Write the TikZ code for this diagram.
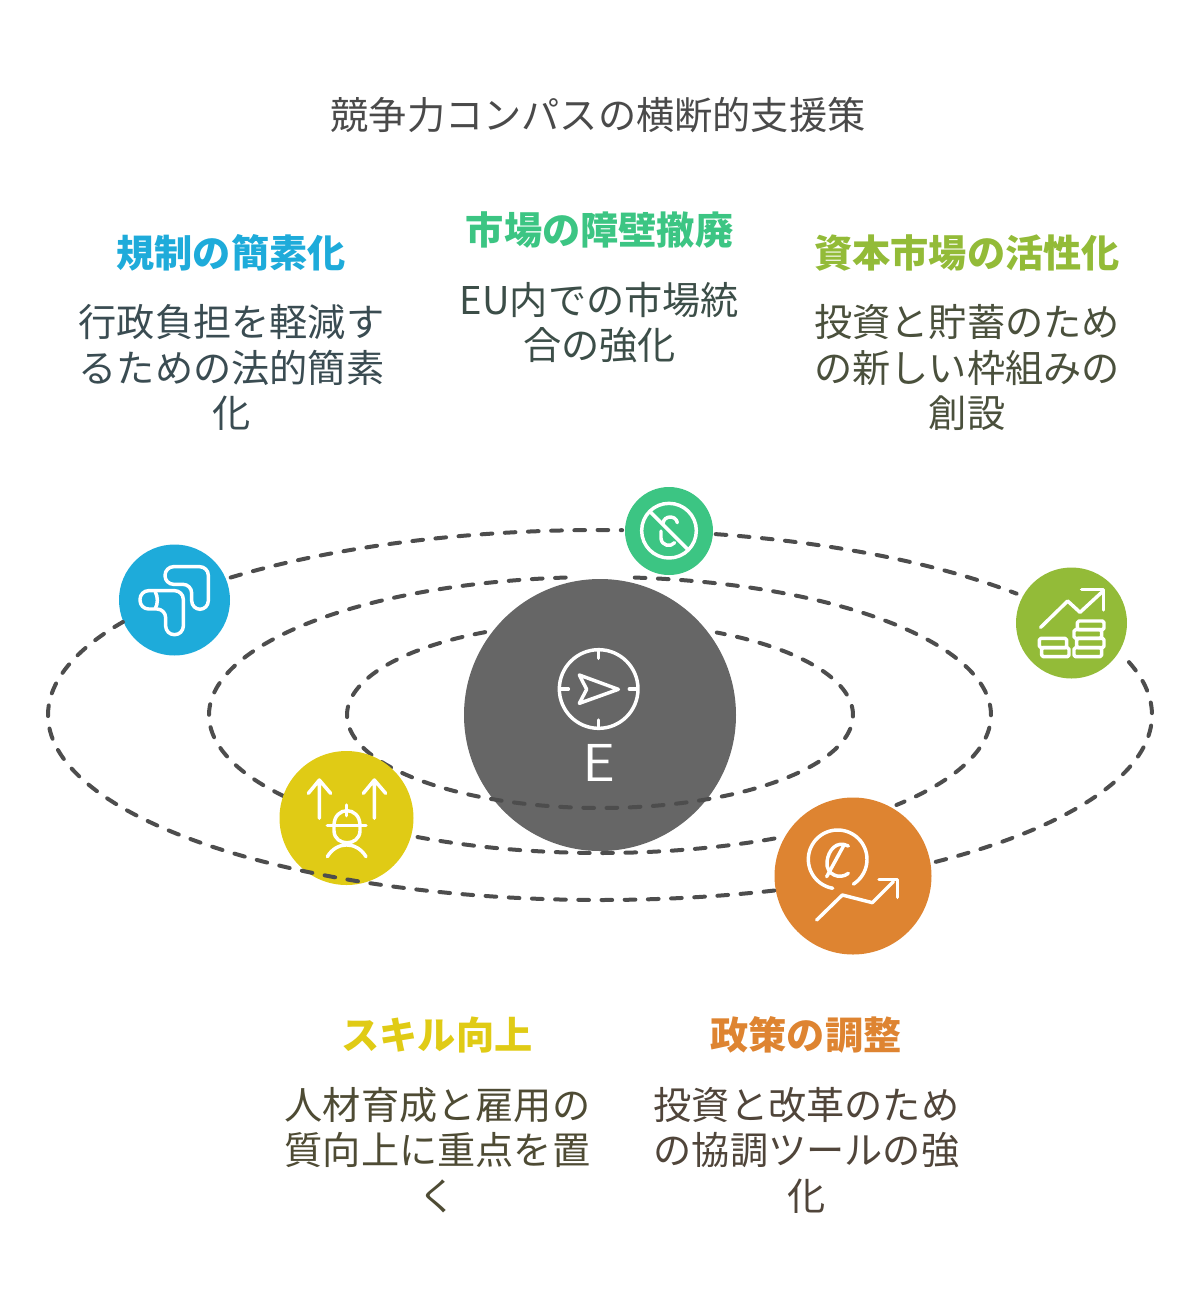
\documentclass[tikz,border=0pt]{standalone}
\usepackage{fontspec}
\setmainfont{Noto Sans CJK JP}
\newfontfamily\efont[FakeStretch=1.12]{Noto Sans CJK JP DemiLight}
\definecolor{cblue}{HTML}{1EABDA}
\definecolor{cgreen}{HTML}{3CC583}
\definecolor{clime}{HTML}{93BB38}
\definecolor{cyellow}{HTML}{E0CB15}
\definecolor{corange}{HTML}{DE8431}
\definecolor{cdark}{HTML}{666666}
\definecolor{cdash}{HTML}{4D4D4D}
\definecolor{ctitle}{HTML}{4A4A4A}
\definecolor{tblue}{HTML}{3A4C52}
\definecolor{tgreen}{HTML}{3C4E48}
\definecolor{tlime}{HTML}{4A503C}
\definecolor{tyellow}{HTML}{4E4B34}
\definecolor{torange}{HTML}{50453A}
\newcommand{\orbit}[4]{\draw[orbitline] plot[domain=#3:#4,samples=200] ({600+#1*cos(\x)},{715-#2*sin(\x)});}
\tikzset{
  x=0.75pt,y=-0.75pt,
  orbitline/.style={draw=cdash,line width=3pt,line cap=round,dash pattern=on 8pt off 9.4pt},
  disc/.style={circle,inner sep=0pt,minimum size=#1*0.75pt,draw=none},
  txt/.style={align=center,inner sep=0pt,font=\fontsize{28.65pt}{34.1pt}\selectfont},
  head/.style={txt,font=\fontsize{28.65pt}{34.1pt}\selectfont\bfseries},
  ico/.style={draw=white,line width=2.6pt,line cap=round,line join=round},
}
\begin{document}
\begin{tikzpicture}
\useasboundingbox (0,0) rectangle (1200,1315);
% title
\node[txt,text=ctitle] (title) at (598,115) {競争力コンパスの横断的支援策};
% outer orbit, first part
\orbit{552}{185}{132}{87.7}
\orbit{552}{185}{77.9}{41}
\orbit{552}{185}{16.6}{-53}
% middle orbit
\orbit{391}{138}{216}{94.7}
\orbit{391}{138}{84.9}{-40.7}
\orbit{391}{138}{-63.5}{-118.3}
% centre
\node[disc=272,fill=cdark] (centre) at (600,715) {};
\orbit{253}{93}{117}{422.5}
\node[text=white,inner sep=0pt,font=\efont\fontsize{38pt}{38pt}\selectfont] (elabel) at (599,763) {E};
\begin{scope}[shift={(530,630)},x=0.25pt,y=-0.25pt]
  \draw[ico] (206,177) circle[radius=118];
  \draw[ico] (206,62)--(206,85) (206,270)--(206,293) (90,177)--(115,177) (298,177)--(322,177);
  \draw[ico] (265,178)--(148,135)--(170,178)--(148,220)--cycle;
\end{scope}
% discs
\node[disc=111,fill=cblue] (nblue) at (174.5,600) {};
\node[disc=88,fill=cgreen] (ngreen) at (669,531) {};
\node[disc=111,fill=clime] (nlime) at (1071.5,623) {};
\node[disc=134,fill=cyellow] (nyellow) at (346.5,818) {};
\node[disc=157,fill=corange] (norange) at (853,876) {};
% outer orbit, bottom part runs over the yellow disc
\orbit{552}{185}{-71.6}{-210.2}
% blue icon
\begin{scope}[shift={(100,470)},x=0.25pt,y=-0.25pt]
  \draw[ico] [rounded corners=6.5pt] (195,290)--(325,290)--(325,418)--(275,418)--(275,343)--(195,343)--cycle;
  \draw[ico] [rounded corners=6.5pt] (120,362)--(250,362)--(250,494)--(197,494)--(197,417)--(120,417)--cycle;
  \draw[ico] (166,366) .. controls (174,380) and (174,402) .. (166,415);
\end{scope}
% green icon
\begin{scope}[shift={(600,470)},x=0.25pt,y=-0.25pt]
  \draw[ico] (207,182) circle[radius=82];
  \draw[ico] (150,125)--(262,237);
  \draw[ico] (189,160) .. controls (192,135) and (228,135) .. (232,158);
  \draw[ico] (183,183)--(183,205) .. controls (185,228) and (212,232) .. (224,218);
\end{scope}
% lime icon
\begin{scope}[shift={(1000,555)},x=0.25pt,y=-0.25pt]
  \draw[ico] (122,217)--(203,138)--(240,172)--(305,112);
  \draw[ico] (245,103)--(310,103)--(310,165);
  \draw[ico,rounded corners=1.2pt] (232,198) rectangle (312,224);
  \draw[ico,rounded corners=1.2pt] (222,224) rectangle (305,250);
  \draw[ico,rounded corners=1.2pt] (230,250) rectangle (312,278);
  \draw[ico,rounded corners=1.2pt] (222,278) rectangle (305,305);
  \draw[ico,rounded corners=1.2pt] (118,250) rectangle (200,278);
  \draw[ico,rounded corners=1.2pt] (125,278) rectangle (207,305);
\end{scope}
% yellow icon
\begin{scope}[shift={(270,745)},x=0.25pt,y=-0.25pt]
  \draw[ico] (148,220)--(148,105) (115,145)--(148,105)--(182,145);
  \draw[ico] (313,220)--(313,105) (280,145)--(313,105)--(347,145);
  \draw[ico] (172,242)--(288,242);
  \draw[ico] (192,242) .. controls (192,182) and (270,182) .. (270,242);
  \draw[ico] (192,242)--(192,258) .. controls (194,305) and (268,305) .. (270,258)--(270,242);
  \draw[ico] (230,180)--(230,212);
  \draw[ico] (172,335) .. controls (200,288) and (260,288) .. (288,335);
\end{scope}
% orange icon
\begin{scope}[shift={(765,790)},x=0.25pt,y=-0.25pt]
  \draw[ico] plot[domain=99.7:417.5,samples=80] ({218+88*cos(\x)},{208+88*sin(\x)});
  \draw[ico] (250,168) .. controls (215,150) and (190,180) .. (186,215) .. controls (182,255) and (225,270) .. (250,250);
  \draw[ico] (185,260)--(237,165);
  \draw[ico] (155,390)--(232,315)--(322,338)--(385,275);
  \draw[ico] (342,268)--(397,268)--(397,322);
\end{scope}
% headings and body
\node[head,text=cblue] (h1) at (231,253) {規制の簡素化};
\node[txt,text=tblue] (b1) at (231.5,367.5) {行政負担を軽減す\\るための法的簡素\\化};
\node[head,text=cgreen] (h2) at (599.5,230) {市場の障壁撤廃};
\node[txt,text=tgreen] (b2) at (599.5,322.5) {EU内での市場統\\合の強化};
\node[head,text=clime] (h3) at (967,253) {資本市場の活性化};
\node[txt,text=tlime] (b3) at (967,367.5) {投資と貯蓄のため\\の新しい枠組みの\\創設};
\node[head,text=cyellow] (h4) at (437,1035) {スキル向上};
\node[txt,text=tyellow] (b4) at (437.5,1150) {人材育成と雇用の\\質向上に重点を置\\く};
\node[head,text=corange] (h5) at (806,1035) {政策の調整};
\node[txt,text=torange] (b5) at (806.5,1150) {投資と改革のため\\の協調ツールの強\\化};
\end{tikzpicture}
\end{document}
